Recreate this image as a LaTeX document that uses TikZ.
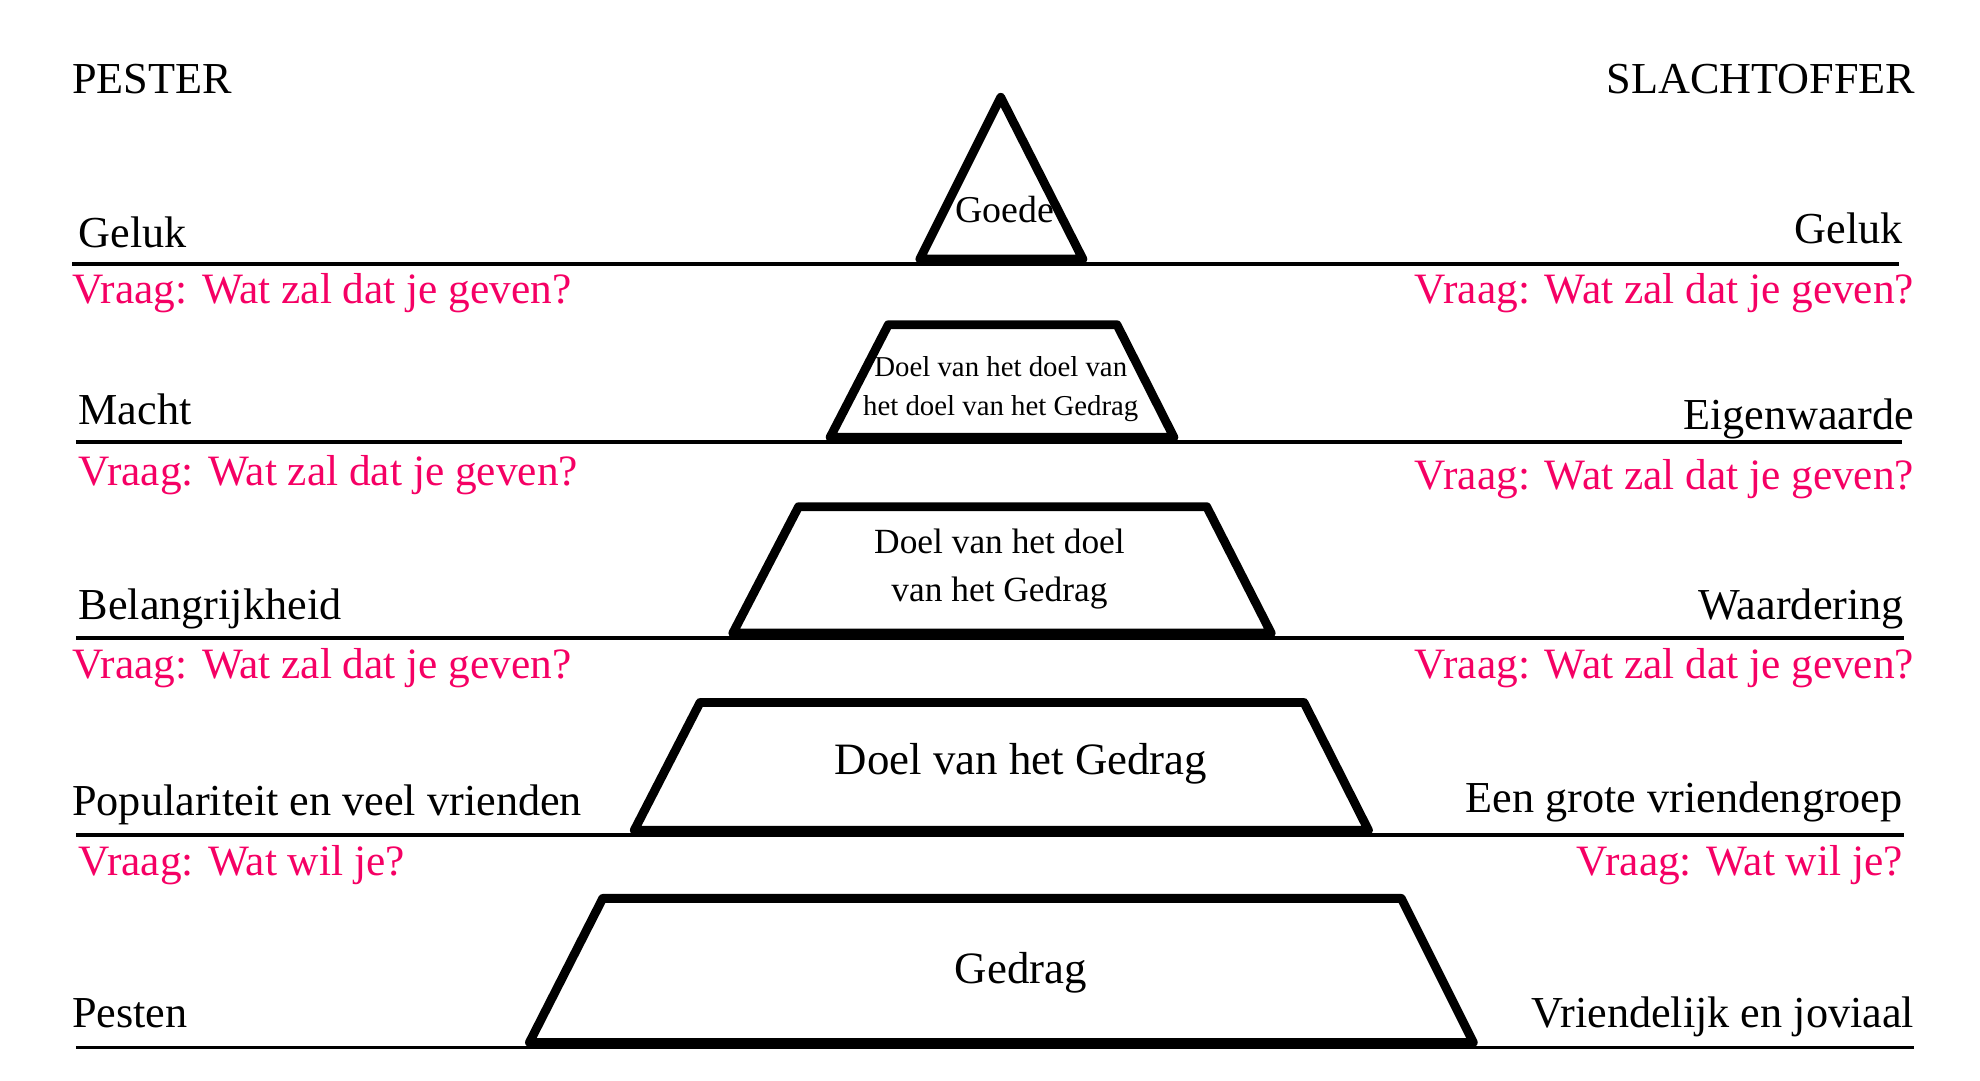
\documentclass[tikz,border=0pt]{standalone}
\usepackage{fontspec}
\setmainfont{Liberation Serif}
\definecolor{vraag}{RGB}{245,0,100}
\begin{document}
\begin{tikzpicture}[x=1pt,y=-1pt,
  lbl/.style={inner sep=0pt, font=\fontsize{35}{40}\selectfont},
  qlbl/.style={inner sep=0pt, font=\fontsize{34.3}{40}\selectfont, text=vraag},
  lw/.style={lbl, anchor=base west},
  le/.style={lbl, anchor=base east},
  qw/.style={qlbl, anchor=base west},
  qe/.style={qlbl, anchor=base east},
  level/.style={line width=7pt, line join=round},
  baseline/.style={line width=3pt}]
\useasboundingbox (0,0) rectangle (1567,855);

% horizontal lines
\draw[baseline] (57,209) -- (1503,209);
\draw[baseline] (60,350) -- (1505,350);
\draw[baseline] (60,505) -- (1507,505);
\draw[baseline] (60,661) -- (1507,661);
\draw[baseline] (60,829) -- (1515,829);

% pyramid levels
\draw[level] (792,77) -- (857,205) -- (728,205) -- cycle;
\draw[level] (703,257) -- (884,257) -- (929,346) -- (657,346) -- cycle;
\draw[level] (632,401) -- (955,401) -- (1006,501) -- (580,501) -- cycle;
\draw[level] (554,556) -- (1032,556) -- (1083,657) -- (502,657) -- cycle;
\draw[level] (477,711) -- (1109,711) -- (1166,825) -- (419,825) -- cycle;

% pyramid texts
\node[inner sep=0pt, anchor=base, font=\fontsize{30}{34}\selectfont] (goede) at (795,176) {Goede};
\node[inner sep=0pt, align=center, font=\fontsize{22.8}{31.5}\selectfont] (doel3) at (792,308) {Doel van het doel van\\het doel van het Gedrag};
\node[inner sep=0pt, align=center, font=\fontsize{28}{38}\selectfont] (doel2) at (791,450) {Doel van het doel\\van het Gedrag};
\node[inner sep=0pt, anchor=base, font=\fontsize{35.5}{40}\selectfont] (doel1) at (808,613) {Doel van het Gedrag};
\node[inner sep=0pt, anchor=base, font=\fontsize{35.5}{40}\selectfont] (gedrag) at (808,778) {Gedrag};

% headers
\node[lw] (pester) at (57,74) {PESTER};
\node[le] (slachtoffer) at (1516,74) {SLACHTOFFER};

% left column
\node[lw] (l1) at (62,196) {Geluk};
\node[qw] (lq1) at (57,240) {Vraag: Wat zal dat je geven?};
\node[lw] (l2) at (62,336) {Macht};
\node[qw] (lq2) at (62,384) {Vraag: Wat zal dat je geven?};
\node[lw] (l3) at (62,490) {Belangrijkheid};
\node[qw] (lq3) at (57,537) {Vraag: Wat zal dat je geven?};
\node[lw] (l4) at (57,645) {Populariteit en veel vrienden};
\node[qw] (lq4) at (62,693) {Vraag: Wat wil je?};
\node[lw] (l5) at (57,813) {Pesten};

% right column
\node[le] (r1) at (1506,193) {Geluk};
\node[qe] (rq1) at (1515,240) {Vraag: Wat zal dat je geven?};
\node[le] (r2) at (1515,340) {Eigenwaarde};
\node[qe] (rq2) at (1515,387) {Vraag: Wat zal dat je geven?};
\node[le] (r3) at (1507,490) {Waardering};
\node[qe] (rq3) at (1515,537) {Vraag: Wat zal dat je geven?};
\node[le] (r4) at (1506,643) {Een grote vriendengroep};
\node[qe] (rq4) at (1506,693) {Vraag: Wat wil je?};
\node[le] (r5) at (1515,813) {Vriendelijk en joviaal};
\end{tikzpicture}
\end{document}
